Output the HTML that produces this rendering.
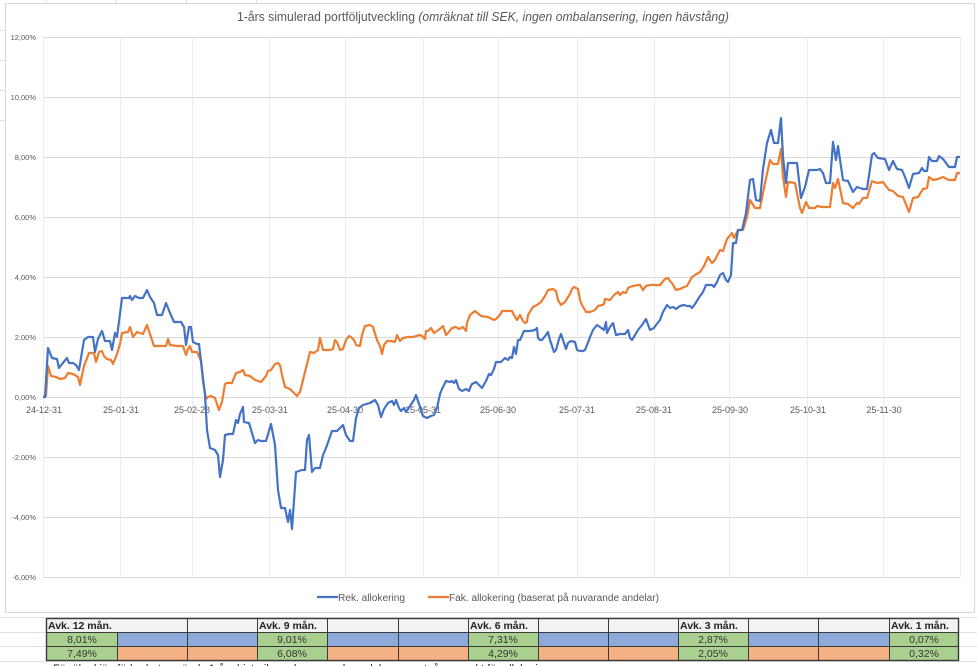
<!DOCTYPE html>
<html><head><meta charset="utf-8"><style>
html,body{margin:0;padding:0;width:977px;height:666px;overflow:hidden;background:#fff;font-family:"Liberation Sans",sans-serif}
svg{position:absolute;left:0;top:0}
</style></head><body>
<svg width="977" height="666" viewBox="0 0 977 666" xmlns="http://www.w3.org/2000/svg" font-family="Liberation Sans, sans-serif">
<!-- sheet grid -->
<g stroke="#e1e1e1" stroke-width="1">
<line x1="0" y1="617.5" x2="977" y2="617.5"/>
<line x1="0" y1="632.5" x2="46" y2="632.5"/><line x1="0" y1="646.5" x2="46" y2="646.5"/><line x1="0" y1="661.5" x2="977" y2="661.5"/>
<line x1="959" y1="632.5" x2="977" y2="632.5"/><line x1="959" y1="646.5" x2="977" y2="646.5"/>
<line x1="46.5" y1="0" x2="46.5" y2="3"/><line x1="116.5" y1="0" x2="116.5" y2="3"/><line x1="186.5" y1="0" x2="186.5" y2="3"/><line x1="256.5" y1="0" x2="256.5" y2="3"/>
<line x1="0" y1="30.5" x2="5" y2="30.5"/><line x1="0" y1="60.5" x2="5" y2="60.5"/><line x1="0" y1="90.5" x2="5" y2="90.5"/><line x1="0" y1="120.5" x2="5" y2="120.5"/>
</g>
<!-- chart frame -->
<rect x="5.5" y="3.5" width="969" height="609" fill="#fff" stroke="#d9d9d9"/>
<!-- grid -->
<g stroke="#d9d9d9" stroke-width="1">
<line x1="43" y1="37.5" x2="960" y2="37.5"/><line x1="43" y1="97.5" x2="960" y2="97.5"/><line x1="43" y1="157.5" x2="960" y2="157.5"/><line x1="43" y1="217.5" x2="960" y2="217.5"/><line x1="43" y1="277.5" x2="960" y2="277.5"/><line x1="43" y1="337.5" x2="960" y2="337.5"/><line x1="43" y1="397.5" x2="960" y2="397.5"/><line x1="43" y1="457.5" x2="960" y2="457.5"/><line x1="43" y1="517.5" x2="960" y2="517.5"/><line x1="43" y1="577.5" x2="960" y2="577.5"/>
</g>
<g stroke="#ececec" stroke-width="1">
<line x1="43.5" y1="37" x2="43.5" y2="577"/><line x1="120.5" y1="37" x2="120.5" y2="577"/><line x1="192.5" y1="37" x2="192.5" y2="577"/><line x1="269.5" y1="37" x2="269.5" y2="577"/><line x1="345.5" y1="37" x2="345.5" y2="577"/><line x1="423.5" y1="37" x2="423.5" y2="577"/><line x1="498.5" y1="37" x2="498.5" y2="577"/><line x1="577.5" y1="37" x2="577.5" y2="577"/><line x1="654.5" y1="37" x2="654.5" y2="577"/><line x1="729.5" y1="37" x2="729.5" y2="577"/><line x1="807.5" y1="37" x2="807.5" y2="577"/><line x1="883.5" y1="37" x2="883.5" y2="577"/><line x1="960.5" y1="37" x2="960.5" y2="577"/>
</g>
<!-- title -->
<text x="237" y="21" font-size="13" fill="#595959" textLength="492" lengthAdjust="spacingAndGlyphs">1-års simulerad portföljutveckling <tspan font-style="italic">(omräknat till SEK, ingen ombalansering, ingen hävstång)</tspan></text>
<!-- y labels -->
<g font-size="7.5" fill="#595959" text-anchor="end">
<text x="36" y="40">12,00%</text><text x="36" y="100">10,00%</text><text x="36" y="160">8,00%</text><text x="36" y="220">6,00%</text><text x="36" y="280">4,00%</text><text x="36" y="340">2,00%</text><text x="36" y="400">0,00%</text><text x="36" y="460">-2,00%</text><text x="36" y="520">-4,00%</text><text x="36" y="580">-6,00%</text>
</g>
<!-- x labels -->
<g font-size="9" fill="#595959" text-anchor="middle">
<text x="44" y="413">24-12-31</text><text x="121" y="413">25-01-31</text><text x="192" y="413">25-02-28</text><text x="270" y="413">25-03-31</text><text x="345" y="413">25-04-30</text><text x="423" y="413">25-05-31</text><text x="498" y="413">25-06-30</text><text x="577" y="413">25-07-31</text><text x="654" y="413">25-08-31</text><text x="730" y="413">25-09-30</text><text x="808" y="413">25-10-31</text><text x="884" y="413">25-11-30</text>
</g>
<!-- orange -->
<polyline fill="none" stroke="#ed7d31" stroke-width="2.2" stroke-linejoin="round" points="43,397 46,396 48,366 51,376 56,377 60,379 65,378 68,373 73,374 78,377 80,385 84,366 89,353 94,353 96,362 99,352 102,351 104,356 107,359 111,360 113,364 117,354 120,344 122,333 128,332 130,327 133,337 137,332 143,334 147,325 150,334 154,346 159,346 166,346 168,339 170,345 177,346 183,346 186,355 188,349 190,346 192,352 197,352 201,361 203,381 206,399 208,397 211,396 215,398 219,410 222,402 225,384 227,383 232,383 236,373 240,372 243,370 245,375 250,376 255,380 258,381 261,382 266,376 268,371 271,370 275,364 278,363 280,365 282,375 285,387 290,389 292,391 295,394 297,396 300,392 305,372 310,352 314,353 318,350 320,338 323,350 326,350 330,350 333,349 335,340 337,342 340,350 343,349 346,340 349,336 351,337 354,340 356,345 360,346 362,335 365,326 370,325 373,327 377,340 380,346 382,354 384,345 387,341 391,341 395,342 397,335 400,341 403,338 408,337 413,337 416,336 420,335 422,336 425,339 426,331 428,331 431,328 434,333 437,331 441,328 443,326 446,335 448,333 452,328 456,327 459,329 463,327 466,331 467,323 470,315 475,311 481,316 488,317 490,318 494,320 496,319 500,315 502,311 512,311 514,315 517,320 520,315 523,321 525,323 527,322 528,315 533,307 537,305 541,302 545,296 548,290 553,289 556,291 558,300 561,305 565,302 570,294 572,289 574,287 578,289 580,300 582,305 586,312 590,312 595,310 598,306 602,305 604,304 605,299 610,300 614,295 618,292 620,295 623,292 626,293 628,288 630,287 633,286 638,285 640,285 643,290 646,286 650,285 655,285 660,285 665,279 668,278 670,281 672,283 676,290 680,289 684,287 687,286 692,277 695,275 700,272 704,266 708,257 712,263 715,260 720,250 723,251 727,239 732,233 734,238 738,230 743,230 747,217 750,200 755,208 760,208 765,183 770,160 773,164 778,164 781,149 783,177 786,197 788,182 795,183 800,208 802,213 806,202 809,208 815,208 817,206 822,207 830,207 833,183 835,188 838,179 843,203 848,204 853,208 857,203 859,204 863,198 867,198 872,181 877,183 883,182 889,190 893,191 898,196 903,197 909,212 913,198 918,197 923,189 927,188 929,177 933,180 938,179 943,177 949,180 955,180 957,173 960,173"/>
<!-- blue -->
<polyline fill="none" stroke="#4472c4" stroke-width="2.2" stroke-linejoin="round" points="43,397 45,397 48,348 52,358 57,359 59,368 62,364 67,358 69,363 73,363 76,365 79,370 84,340 88,337 93,337 95,352 98,339 102,331 105,341 110,341 112,350 115,333 117,337 122,298 129,298 130,296 132,300 135,296 139,298 143,298 147,290 150,297 154,303 157,315 162,315 166,303 170,313 174,322 181,322 184,327 186,345 189,327 191,327 193,342 197,344 199,344 205,395 207,430 210,448 215,450 218,455 220,477 223,460 225,435 229,434 233,434 236,420 238,423 240,414 243,407 244,422 249,423 252,433 255,443 258,440 261,441 266,441 271,424 275,445 278,490 281,508 285,508 288,522 290,510 292,529 296,472 299,471 302,470 305,470 307,440 309,435 312,472 315,468 320,468 323,455 326,448 332,431 337,431 340,428 343,425 346,435 350,441 353,441 356,418 359,408 363,405 370,403 375,400 378,405 381,417 384,409 388,403 392,401 394,405 396,400 399,408 401,411 404,408 406,412 410,406 414,400 416,395 419,404 423,416 427,418 431,416 434,415 437,408 440,394 442,389 446,381 450,382 452,381 454,383 456,380 459,389 462,391 466,389 469,391 470,388 472,384 476,382 479,385 482,388 486,381 489,374 491,375 494,369 496,362 501,362 505,358 508,360 510,357 512,358 514,347 516,354 518,340 520,340 524,331 530,331 535,330 537,328 538,338 540,340 542,340 546,335 548,332 550,340 552,346 554,352 556,350 559,339 561,334 563,340 566,349 568,343 571,341 575,342 577,350 580,351 583,351 585,350 589,340 590,337 593,330 597,325 600,327 604,330 606,322 607,333 610,327 613,323 616,335 620,334 625,334 628,330 630,338 632,340 638,330 642,325 646,319 650,330 654,328 656,325 660,320 663,312 667,305 670,308 673,307 676,309 680,306 684,305 687,306 690,306 692,308 695,304 700,296 703,292 706,285 709,285 712,285 714,287 717,282 720,275 723,273 726,280 728,282 731,275 733,243 736,243 738,230 742,230 746,213 750,180 753,179 756,200 760,201 763,169 767,143 771,130 774,143 778,143 781,118 783,157 786,183 788,163 797,163 801,198 805,187 809,170 817,170 820,169 823,173 826,183 830,183 833,142 836,160 838,146 843,180 848,181 853,192 857,187 863,189 867,189 872,155 874,153 878,158 885,159 889,170 893,161 897,169 902,170 905,177 909,188 913,174 919,173 922,168 924,171 927,171 929,157 932,161 937,161 939,156 943,159 949,167 955,167 957,157 960,157"/>
<!-- legend -->
<line x1="317" y1="597" x2="338" y2="597" stroke="#4472c4" stroke-width="2.2"/>
<text x="338" y="601" font-size="10" fill="#595959" textLength="67" lengthAdjust="spacingAndGlyphs">Rek. allokering</text>
<line x1="428" y1="597" x2="449" y2="597" stroke="#ed7d31" stroke-width="2.2"/>
<text x="449" y="601" font-size="10" fill="#595959" textLength="210" lengthAdjust="spacingAndGlyphs">Fak. allokering (baserat på nuvarande andelar)</text>
<!-- table -->
<g>
<rect x="46" y="618" width="913" height="14" fill="#f2f2f2"/>
<rect x="46" y="632" width="913" height="14" fill="#8eaadb"/>
<rect x="46" y="646" width="913" height="15" fill="#f4b183"/>
<g fill="#a9d08e">
<rect x="46" y="632" width="71" height="29"/><rect x="257" y="632" width="70" height="29"/><rect x="468" y="632" width="70" height="29"/><rect x="678" y="632" width="70" height="29"/><rect x="889" y="632" width="70" height="29"/>
</g>
<g stroke="#3a3a3a" stroke-width="1">
<rect x="46.5" y="618.5" width="912" height="42" fill="none" stroke-width="1.4"/>
<line x1="46" y1="632.5" x2="959" y2="632.5"/><line x1="46" y1="646.5" x2="959" y2="646.5"/>
<line x1="117.5" y1="632" x2="117.5" y2="661"/>
<line x1="187.5" y1="618" x2="187.5" y2="661"/><line x1="257.5" y1="618" x2="257.5" y2="661"/><line x1="327.5" y1="618" x2="327.5" y2="661"/><line x1="398.5" y1="618" x2="398.5" y2="661"/><line x1="468.5" y1="618" x2="468.5" y2="661"/><line x1="538.5" y1="618" x2="538.5" y2="661"/><line x1="608.5" y1="618" x2="608.5" y2="661"/><line x1="678.5" y1="618" x2="678.5" y2="661"/><line x1="748.5" y1="618" x2="748.5" y2="661"/><line x1="818.5" y1="618" x2="818.5" y2="661"/><line x1="889.5" y1="618" x2="889.5" y2="661"/>
</g>
<g font-size="10.5" font-weight="bold" fill="#222">
<text x="48" y="629">Avk. 12 mån.</text><text x="259" y="629">Avk. 9 mån.</text><text x="470" y="629">Avk. 6 mån.</text><text x="680" y="629">Avk. 3 mån.</text><text x="891" y="629">Avk. 1 mån.</text>
</g>
<g font-size="10.5" fill="#333" text-anchor="middle">
<text x="82" y="643">8,01%</text><text x="292" y="643">9,01%</text><text x="503" y="643">7,31%</text><text x="713" y="643">2,87%</text><text x="924" y="643">0,07%</text>
<text x="82" y="657">7,49%</text><text x="292" y="657">6,08%</text><text x="503" y="657">4,29%</text><text x="713" y="657">2,05%</text><text x="924" y="657">0,32%</text>
</g>
<text x="53" y="672" font-size="11" fill="#222">För ökad jämförbarhet används 1-års historik med nuvarande andelar som utgångspunkt för allokeringen</text>
</g>
</svg>
</body></html>
